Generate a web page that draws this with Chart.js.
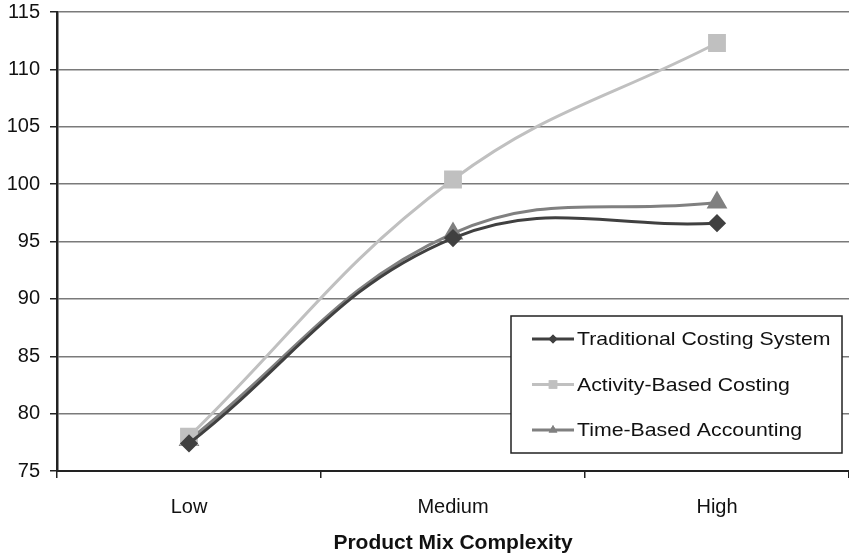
<!DOCTYPE html>
<html>
<head>
<meta charset="utf-8">
<script src="https://cdn.jsdelivr.net/npm/chart.js@4/dist/chart.umd.min.js"></script>
<style>
  html, body { margin: 0; padding: 0; background: #fff; }
  #wrap { width: 849px; height: 559px; }
</style>
</head>
<body>
<div id="wrap"><canvas id="myChart" width="849" height="559"></canvas></div>
<script>
// categories and series
const categories = ['Low', 'Medium', 'High'];
const traditional = [77.4, 95.3, 96.6];
const activityBased = [78.0, 100.4, 112.3];
const timeBased = [77.7, 95.7, 98.4];
const yTicks = [75, 80, 85, 90, 95, 100, 105, 110, 115];

const FONT = "'Liberation Sans', Arial, sans-serif";

// legend drawn inside the plot area, bottom right
const boxLegend = {
  id: 'boxLegend',
  afterDraw(chart) {
    const c = chart.ctx;
    const x = 511, y = 316, w = 331, h = 137;
    c.save();
    c.fillStyle = '#fff';
    c.fillRect(x, y, w, h);
    c.strokeStyle = '#222';
    c.lineWidth = 1.5;
    c.strokeRect(x, y, w, h);
    c.textBaseline = 'middle';
    chart.data.datasets.forEach((ds, i) => {
      const cy = y + 23 + i * 45.5;
      c.strokeStyle = ds.borderColor;
      c.lineWidth = 3;
      c.beginPath();
      c.moveTo(532, cy);
      c.lineTo(574, cy);
      c.stroke();
      c.fillStyle = ds.borderColor;
      c.beginPath();
      Chart.helpers.drawPoint(c, {pointStyle: ds.pointStyle, radius: ds.legendRadius, borderWidth: 0}, 553, cy);
      c.fill();
      // text is a bit wider than Liberation Sans in the source
      c.save();
      c.translate(577, cy + 1);
      c.scale(1.12, 1);
      c.font = '19px ' + FONT;
      c.fillStyle = '#111';
      c.fillText(ds.label, 0, 0);
      c.restore();
    });
    c.restore();
  }
};

new Chart(document.getElementById('myChart'), {
  type: 'line',
  data: {
    labels: categories,
    datasets: [
      {
        label: 'Traditional Costing System',
        data: traditional,
        borderColor: '#404040',
        backgroundColor: '#404040',
        pointStyle: 'rectRot',
        pointRadius: 7,
        legendRadius: 4.5,
        borderWidth: 3,
        tension: 0.4
      },
      {
        label: 'Activity-Based Costing',
        data: activityBased,
        borderColor: '#c0c0c0',
        backgroundColor: '#c0c0c0',
        pointStyle: 'rect',
        pointRadius: 10.5,
        legendRadius: 6,
        borderWidth: 3,
        tension: 0.4
      },
      {
        label: 'Time-Based Accounting',
        data: timeBased,
        borderColor: '#808080',
        backgroundColor: '#808080',
        pointStyle: 'triangle',
        pointRadius: 9,
        legendRadius: 5,
        borderWidth: 3,
        tension: 0.4
      }
    ]
  },
  options: {
    responsive: false,
    animation: false,
    layout: { autoPadding: false, padding: { top: 12, right: 0, left: 0, bottom: 0 } },
    plugins: {
      legend: { display: false },
      tooltip: { enabled: false }
    },
    scales: {
      x: {
        offset: true,
        grid: {
          offset: true,
          drawOnChartArea: false,
          drawTicks: true,
          tickLength: 7,
          color: '#222',
          lineWidth: 1.5
        },
        border: { color: '#222', width: 2 },
        ticks: {
          color: '#111',
          padding: 17,
          font: { family: FONT, size: 20 }
        },
        title: {
          display: true,
          text: 'Product Mix Complexity',
          color: '#111',
          font: { family: FONT, size: 21, weight: 'bold' },
          padding: { top: 8, bottom: 3 }
        },
        afterFit(scale) {
          scale.height = 88;
          scale.paddingLeft = 0;
          scale.paddingRight = 0;
        }
      },
      y: {
        min: 75,
        max: 115,
        afterBuildTicks(scale) { scale.ticks = yTicks.map(v => ({ value: v })); },
        grid: {
          color: '#7a7a7a',
          lineWidth: 1.5,
          tickLength: 7,
          tickColor: '#222'
        },
        border: { color: '#222', width: 2.5 },
        ticks: {
          color: '#111',
          padding: 10,
          font: { family: FONT, size: 20 }
        },
        afterFit(scale) {
          scale.width = 57;
          scale.paddingTop = 0;
          scale.paddingBottom = 0;
        }
      }
    }
  },
  plugins: [boxLegend]
});
</script>
</body>
</html>
